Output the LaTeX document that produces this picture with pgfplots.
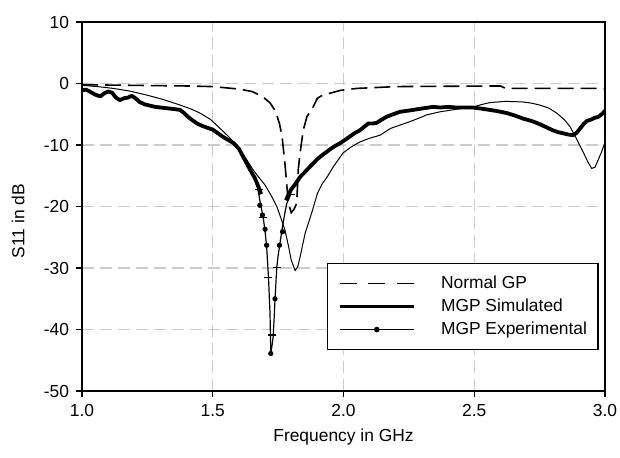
\documentclass[border=0pt]{standalone}
\usepackage{fontspec}
\setmainfont{Liberation Sans}
\usepackage{pgfplots}
\pgfplotsset{compat=1.18}
\begin{document}
\begin{tikzpicture}
\begin{axis}[
  at={(0,0)}, anchor=south west,
  scale only axis, width=261.5pt, height=184.5pt,
  xmin=1, xmax=3, ymin=-50, ymax=10,
  xtick={1,1.5,2,2.5,3}, ytick={-50,-40,-30,-20,-10,0,10},
  xticklabel style={/pgf/number format/.cd, fixed, fixed zerofill, precision=1},
  /pgf/number format/assume math mode=true,
  tick label style={font=\fontsize{8.7}{10}\selectfont},
  label style={font=\fontsize{8.7}{10}\selectfont},
  tick align=outside, major tick length=3pt,
  tick style={black, line width=0.6pt},
  xtick pos=bottom, ytick pos=left,
  axis line style={line width=0.9pt},
  grid=major,
  major grid style={gray!40, dash pattern=on 6pt off 3pt, line width=0.6pt},
  xlabel={Frequency in GHz}, ylabel={S11 in dB},
  xlabel style={at={(axis description cs:0.5,-0.125)}, anchor=center},
  ylabel style={at={(axis description cs:-0.122,0.46)}, anchor=center},
  legend cell align=left,
  legend style={at={(axis description cs:0.4685,0.347)}, anchor=north west,
    draw=black, line width=0.6pt, fill=white,
    inner xsep=5.5pt, inner ysep=5.75pt, row sep=3pt,
    font=\fontsize{8.7}{10}\selectfont,
    nodes={inner sep=0pt, text height=6.5pt, text depth=2pt},
    /tikz/every odd column/.append style={column sep=13pt}},
  legend image code/.code={\draw[mark repeat=2,mark phase=2,#1] plot coordinates {(0pt,0pt) (18.5pt,0pt) (37pt,0pt)};},
  unbounded coords=jump,
]
\addlegendimage{black, line width=0.8pt, dash pattern=on 8.5pt off 5.75pt}
\addlegendentry{Normal GP}
\addlegendimage{black, line width=1.2pt}
\addlegendentry{MGP Simulated}
\addlegendimage{black, line width=0.6pt, mark=*, mark size=1.1pt}
\addlegendentry{MGP Experimental}

% Normal GP (dashed)
\addplot[forget plot, black, line width=0.8pt, dash pattern=on 8pt off 3.5pt] coordinates {
(1.0,-0.2)(1.2,-0.3)(1.4,-0.4)(1.5,-0.5)(1.6,-0.9)(1.65,-1.3)(1.69,-2.1)(1.72,-3.2)
(1.74,-4.5)(1.755,-6.5)(1.765,-8.6)(1.776,-13)(1.783,-16.5)(1.79,-19.5)(1.80,-21)
(1.81,-20.5)(1.821,-19.5)(1.827,-14)(1.834,-11.3)(1.846,-7.6)(1.86,-5.4)(1.884,-3.8)
(1.90,-2.4)(1.92,-1.9)(1.99,-1.1)(2.05,-0.8)(2.2,-0.5)(2.6,-0.4)(2.62,-0.8)(2.98,-0.8)(3.0,-0.9)
};

% thin smooth curve
\addplot[forget plot, black, line width=0.5pt] coordinates {
(1.000,-0.3)(1.060,-0.5)(1.120,-0.8)(1.180,-1.2)(1.250,-1.9)(1.310,-2.6)(1.375,-3.5)
(1.420,-4.2)(1.451,-4.8)(1.490,-5.8)(1.528,-7.3)(1.560,-8.6)(1.590,-10.0)(1.630,-12.4)
(1.654,-14.0)(1.675,-15.2)(1.700,-16.5)(1.727,-18.5)(1.745,-20.0)(1.760,-21.8)
(1.776,-23.8)(1.790,-26.5)(1.800,-28.7)(1.815,-30.4)(1.825,-29.8)(1.834,-28.2)
(1.853,-24.4)(1.878,-21.1)(1.900,-17.9)(1.920,-16.2)(1.936,-15.3)(1.960,-13.6)
(1.998,-11.3)(2.030,-10.3)(2.063,-9.5)(2.100,-8.9)(2.140,-8.4)(2.180,-7.3)(2.220,-6.7)
(2.254,-6.2)(2.290,-5.6)(2.318,-5.1)(2.369,-4.6)(2.430,-4.2)(2.496,-3.8)(2.530,-3.4)
(2.560,-3.1)(2.620,-2.9)(2.686,-3.0)(2.720,-3.2)(2.750,-3.5)(2.785,-4.0)(2.815,-4.8)
(2.845,-5.9)(2.866,-7.0)(2.890,-8.9)(2.916,-11.1)(2.935,-12.8)(2.949,-13.8)(2.962,-13.6)
(2.974,-12.4)(2.988,-11.0)(3.000,-9.5)
};

% thick noisy curve (two parts)
\addplot[forget plot, black, line width=1.9pt, line join=round] coordinates {
(1.000,-1.1)(1.015,-1.0)(1.030,-1.3)(1.050,-1.8)(1.070,-2.1)(1.085,-1.6)(1.100,-1.3)
(1.115,-1.5)(1.130,-2.3)(1.145,-2.7)(1.160,-2.4)(1.175,-2.3)(1.190,-2.0)(1.205,-2.4)
(1.220,-3.0)(1.240,-3.4)(1.260,-3.6)(1.280,-3.8)(1.300,-3.9)(1.320,-4.0)(1.340,-4.1)
(1.360,-4.2)(1.375,-4.3)(1.390,-4.8)(1.405,-5.4)(1.420,-5.9)(1.440,-6.5)(1.460,-6.9)
(1.480,-7.2)(1.500,-7.5)(1.520,-8.1)(1.540,-8.7)(1.560,-9.2)(1.580,-9.7)(1.600,-10.6)
(1.615,-11.8)(1.630,-13.0)(1.645,-14.2)(1.660,-15.3)(1.675,-16.8)(1.685,-18.0)
(1.700,nan)
(1.780,-19.0)(1.790,-18.0)(1.800,-17.2)(1.815,-16.4)(1.834,-15.2)(1.850,-14.5)
(1.870,-13.6)(1.884,-13.0)(1.900,-12.3)(1.920,-11.6)(1.936,-11.1)(1.955,-10.5)
(1.970,-10.1)(1.987,-9.7)(2.005,-9.2)(2.025,-8.6)(2.045,-8.0)(2.063,-7.6)(2.080,-7.0)
(2.095,-6.5)(2.110,-6.5)(2.127,-6.4)(2.145,-5.9)(2.165,-5.4)(2.190,-5.0)(2.216,-4.6)
(2.250,-4.4)(2.280,-4.2)(2.310,-4.0)(2.343,-3.8)(2.370,-3.9)(2.400,-3.8)(2.430,-3.9)
(2.460,-3.9)(2.495,-3.9)(2.530,-4.1)(2.560,-4.3)(2.590,-4.5)(2.624,-4.8)(2.655,-5.2)
(2.686,-5.7)(2.720,-6.1)(2.750,-6.6)(2.780,-7.2)(2.800,-7.6)(2.820,-7.9)(2.840,-8.1)
(2.860,-8.3)(2.878,-8.4)(2.892,-8.0)(2.905,-7.3)(2.918,-6.6)(2.930,-6.1)(2.945,-5.9)
(2.960,-5.6)(2.975,-5.4)(2.990,-4.9)(3.000,-4.4)
};

% thin V with markers
\addplot[forget plot, black, line width=0.6pt] coordinates {
(1.640,-13.8)(1.660,-15.5)(1.672,-17.0)(1.680,-19.0)(1.687,-20.5)(1.693,-21.8)
(1.700,-24.0)(1.706,-26.5)(1.713,-31.4)(1.719,-37.4)(1.722,-43.9)(1.727,-42.5)
(1.731,-41.2)(1.735,-38.0)(1.738,-35.2)(1.745,-29.8)(1.750,-28.0)(1.757,-26.0)
(1.763,-24.3)(1.769,-22.7)(1.776,-21.0)(1.783,-19.5)(1.800,-17.9)
};
\addplot[forget plot, only marks, black, mark=*, mark size=1.1pt] coordinates {
(1.680,-19.8)(1.690,-21.4)(1.700,-23.7)(1.706,-26.3)(1.722,-43.9)(1.738,-35.0)
(1.755,-26.3)(1.767,-24.1)
};
\addplot[forget plot, only marks, black, mark=-, mark size=2pt, mark options={line width=0.6pt}] coordinates {
(1.676,-17.2)(1.693,-21.8)(1.713,-31.6)(1.728,-40.9)(1.747,-29.9)(1.800,-18.0)
};
\end{axis}
\pgfresetboundingbox
\path (-41pt,-33pt) rectangle (269pt,195.5pt);
\end{tikzpicture}
\end{document}
